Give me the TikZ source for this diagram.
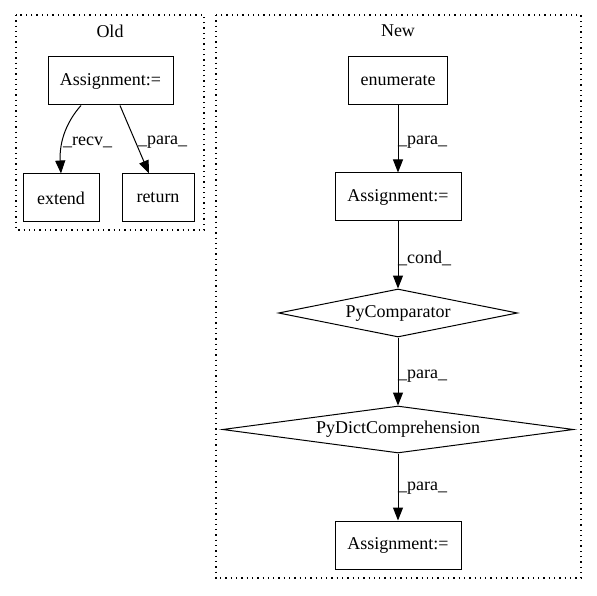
\documentclass[tikz,border=0pt]{standalone}
\usepackage{fontspec}
\setmainfont{Liberation Serif}
\usetikzlibrary{arrows.meta,shapes.geometric}
\begin{document}
\begin{tikzpicture}[x=1pt,y=-1pt,
  every node/.style={font=\fontsize{18}{22}\selectfont},
  box/.style={draw,line width=1pt,minimum height=48pt,inner sep=0pt},
  dia/.style={draw,diamond,line width=1pt,inner sep=0pt},
  cluster/.style={draw,line width=1.1pt,dash pattern=on 1.3pt off 4pt},
  edge/.style={line width=1pt,-{Triangle[length=13pt,width=10pt]}},
  elab/.style={anchor=west,inner sep=0pt}]
\useasboundingbox (0,0) rectangle (597,596);
\draw[cluster] (16,15) rectangle (204,230);
\draw[cluster] (216,15) rectangle (581,578);
\node (told) at (110,31) {Old};
\node (tnew) at (398,31) {New};
% Old
\node[box,minimum width=125pt] (oa) at (110.5,81) {Assignment:=};
\node[box,minimum width=76pt] (ext) at (61,198) {extend};
\node[box,minimum width=72pt] (ret) at (158,198) {return};
\draw[edge] ([xshift=-29.5pt]oa.south) .. controls (68,120) and (59,140) .. (ext.north);
\draw[edge] ([xshift=9.5pt]oa.south) -- ([xshift=-9pt]ret.north);
\node[elab] (l1) at (63,142) {\_recv\_};
\node[elab] (l2) at (138,142) {\_para\_};
% New
\node[box,minimum width=99pt] (en) at (398,81) {enumerate};
\node[box,minimum width=126pt] (na) at (398,197) {Assignment:=};
\node[dia,minimum width=239pt,minimum height=48pt] (pc) at (398,313) {};
\node (pct) at (398,313) {PyComparator};
\node[dia,minimum width=351pt,minimum height=47pt] (pd) at (398,429.5) {};
\node (pdt) at (398,429.5) {PyDictComprehension};
\node[box,minimum width=126pt] (nb) at (398,545) {Assignment:=};
\draw[edge] (en.south) -- (na.north);
\draw[edge] (na.south) -- (pc.north);
\draw[edge] (pc.south) -- (pd.north);
\draw[edge] (pd.south) -- (nb.north);
\node[elab] (l3) at (398,142) {\_para\_};
\node[elab] (l4) at (398,258) {\_cond\_};
\node[elab] (l5) at (398,376) {\_para\_};
\node[elab] (l6) at (398,488) {\_para\_};
\end{tikzpicture}
\end{document}
